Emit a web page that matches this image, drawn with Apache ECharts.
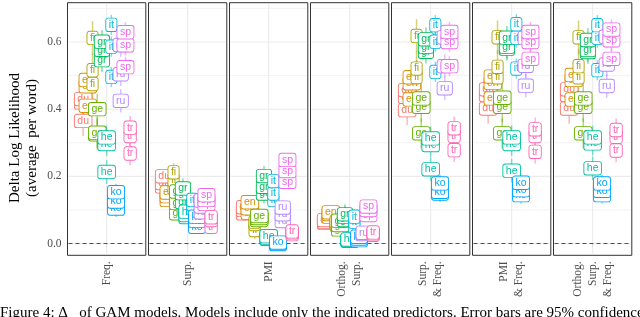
<!DOCTYPE html>
<html><head><meta charset="utf-8">
<script src="https://cdn.jsdelivr.net/npm/echarts@6/dist/echarts.min.js"></script>
<style>html,body{margin:0;padding:0;background:#fff}#c{width:640px;height:317px}</style>
</head><body><div id="c"></div>
<script>
// ---------- data ----------
const languages = ['du','en','fi','ge','gr','he','it','ko','ru','sp','tr'];
const panelNames = ['Freq.','Surp.','PMI','Orthog.\nSurp.','Surp.\n& Freq.','PMI\n& Freq.','Orthog.\nSurp.\n& Freq.'];
const yTicks = [0, 0.2, 0.4, 0.6];
const yMinorTicks = [0.1, 0.3, 0.5, 0.7];
// delta log likelihood, 3 models per language (order: du,en,fi,ge,gr,he,it,ko,ru,sp,tr)
const freqVals = [[0.365,0.42,0.43],[0.41,0.468,0.487],[0.475,0.516,0.612],[0.325,0.33,0.40],[0.546,0.577,0.601],[0.213,0.296,0.316],[0.496,0.586,0.651],[0.104,0.125,0.153],[0.425,0.504,0.591],[0.525,0.59,0.629],[0.268,0.32,0.345]];
const surpVals = [[0.17,0.18,0.20],[0.13,0.141,0.152],[0.165,0.189,0.212],[0.09,0.121,0.155],[0.124,0.15,0.164],[0.079,0.085,0.095],[0.105,0.118,0.13],[0.05,0.068,0.08],[0.093,0.11,0.128],[0.118,0.13,0.144],[0.05,0.07,0.078]];
const pmiVals = [[0.09,0.10,0.108],[0.092,0.105,0.123],[0.04,0.058,0.065],[0.07,0.076,0.082],[0.149,0.169,0.201],[0.014,0.018,0.022],[0.13,0.149,0.186],[-0.002,0.0,0.003],[0.067,0.087,0.107],[0.184,0.216,0.249],[0.028,0.033,0.036]];
const orthVals = [[0.062,0.065,0.07],[0.08,0.088,0.093],[0.055,0.06,0.065],[0.042,0.055,0.068],[0.07,0.08,0.087],[0.008,0.01,0.012],[0.05,0.065,0.08],[0.01,0.015,0.02],[0.028,0.03,0.032],[0.085,0.10,0.11],[0.026,0.03,0.033]];
const surpFreqVals = [[0.397,0.437,0.457],[0.429,0.477,0.495],[0.496,0.521,0.618],[0.328,0.407,0.432],[0.571,0.586,0.608],[0.221,0.293,0.313],[0.511,0.601,0.650],[0.149,0.154,0.179],[0.462,0.528,0.614],[0.528,0.60,0.63],[0.278,0.321,0.343]];
const pmiFreqVals = [[0.402,0.442,0.459],[0.432,0.479,0.497],[0.495,0.526,0.614],[0.328,0.407,0.434],[0.58,0.586,0.613],[0.217,0.296,0.316],[0.521,0.613,0.653],[0.144,0.159,0.181],[0.47,0.529,0.612],[0.55,0.60,0.63],[0.273,0.32,0.34]];
const orthFreqVals = [[0.402,0.442,0.459],[0.429,0.487,0.502],[0.495,0.528,0.614],[0.328,0.407,0.432],[0.57,0.576,0.606],[0.224,0.298,0.316],[0.516,0.613,0.65],[0.144,0.157,0.179],[0.469,0.533,0.616],[0.55,0.605,0.637],[0.277,0.318,0.338]];
// 95% CI half widths per language
const ciWide = [0.045,0.04,0.05,0.045,0.035,0.035,0.03,0.025,0.035,0.03,0.035];
const ciNarrow = [0.022,0.02,0.027,0.022,0.03,0.018,0.022,0.018,0.022,0.02,0.02];

const panelVals = [freqVals, surpVals, pmiVals, orthVals, surpFreqVals, pmiFreqVals, orthFreqVals];
const panelCI = [ciWide, ciNarrow, ciNarrow, ciNarrow, ciWide, ciWide, ciWide];

// ---------- style ----------
const colors = ['#F8766D','#DB8E00','#AEA200','#64B200','#00BD5C','#00C1A7','#00BADE','#00A6FF','#B385FF','#EF67EB','#FF63B6'];
const serif = 'Liberation Serif';
const yMin = -0.035, yMax = 0.717;
function langX(l){ return (l - 5) * 0.12; }
function alpha(hex, a){
  const n = parseInt(hex.slice(1),16);
  return 'rgba(' + (n>>16&255) + ',' + (n>>8&255) + ',' + (n&255) + ',' + a + ')';
}

const chart = echarts.init(document.getElementById('c'), null, {renderer:'canvas', width:640, height:317});
const grids=[], xAxes=[], yAxes=[], series=[];

panelNames.forEach((name, p) => {
  grids.push({left: 67.5 + p*81, top: 2.7, width: 78.3, height: 252.6, show: true,
    borderColor:'#333333', borderWidth:1, backgroundColor:'#ffffff'});
  xAxes.push({gridIndex:p, type:'value', min:-1, max:1,
    axisLine:{show:false}, splitLine:{show:false},
    axisTick:{show:true, customValues:[0], length:3, lineStyle:{color:'#333333', width:1}},
    axisLabel:{customValues:[0], formatter:()=>name, rotate:90, fontFamily:serif, fontSize:11.5,
      color:'#4D4D4D', margin:6, lineHeight:15}});
  yAxes.push({gridIndex:p, type:'value', min:yMin, max:yMax,
    axisLine:{show:false}, splitLine:{show:false},
    axisTick:{show:p===0, customValues:yTicks, length:3, lineStyle:{color:'#333333', width:1}},
    axisLabel:{show:p===0, customValues:yTicks, formatter:v=>v.toFixed(1), fontFamily:serif,
      fontSize:11.5, color:'#4D4D4D', margin:6}});

  // background grid + zero line
  series.push({type:'custom', xAxisIndex:p, yAxisIndex:p, silent:true, z:1, data:[[0,0]],
    renderItem:function(params, api){
      const cs = params.coordSys;
      const x1 = cs.x + 1, x2 = cs.x + cs.width - 1;
      const ch = [];
      yMinorTicks.forEach(v => {
        const y = api.coord([0, v])[1];
        ch.push({type:'line', shape:{x1:x1, y1:y, x2:x2, y2:y}, style:{stroke:'#EBEBEB', lineWidth:0.6}});
      });
      yTicks.forEach(v => {
        const y = api.coord([0, v])[1];
        ch.push({type:'line', shape:{x1:x1, y1:y, x2:x2, y2:y}, style:{stroke:'#EBEBEB', lineWidth:1.1}});
      });
      const cx = api.coord([0, 0])[0];
      ch.push({type:'line', shape:{x1:cx, y1:cs.y+1, x2:cx, y2:cs.y+cs.height-1}, style:{stroke:'#EBEBEB', lineWidth:1.1}});
      const y0 = api.coord([0, 0])[1];
      ch.push({type:'line', shape:{x1:x1, y1:y0, x2:x2, y2:y0}, style:{stroke:'#555555', lineWidth:1.1, lineDash:[4,3]}});
      return {type:'group', children:ch};
    }});

  const errData = [], labData = [];
  panelVals[p].forEach((vals, l) => {
    vals.forEach(v => {
      errData.push([langX(l), v - panelCI[p][l], v + panelCI[p][l], l]);
      labData.push([langX(l), v, l]);
    });
  });
  series.push({type:'custom', xAxisIndex:p, yAxisIndex:p, silent:true, z:2, data:errData,
    renderItem:function(params, api){
      const lo = api.coord([api.value(0), api.value(1)]);
      const hi = api.coord([api.value(0), api.value(2)]);
      const l = api.value(3);
      return {type:'line', shape:{x1:lo[0], y1:lo[1], x2:hi[0], y2:hi[1]},
        style:{stroke:alpha(colors[l],0.5), lineWidth:1.5}};
    }});
  series.push({type:'custom', xAxisIndex:p, yAxisIndex:p, silent:true, z:3, data:labData,
    renderItem:function(params, api){
      const pt = api.coord([api.value(0), api.value(1)]);
      const l = api.value(2);
      return {type:'text', x:pt[0], y:pt[1],
        style:{text:languages[l], fill:colors[l], fontFamily:'Liberation Sans', fontSize:10.5,
          align:'center', verticalAlign:'middle', backgroundColor:'#ffffff',
          borderColor:colors[l], borderWidth:0.9, borderRadius:2, padding:[1,2.5,0.5,2.5]}};
    }});
});

chart.setOption({
  animation:false,
  grid:grids, xAxis:xAxes, yAxis:yAxes, series:series,
  graphic:[
    {type:'text', x:23.5, y:138, rotation:Math.PI/2,
      style:{text:'Delta Log Likelihood\n(average  per word)', fontFamily:serif, fontSize:15, lineHeight:17,
        align:'center', verticalAlign:'middle', fill:'#000000'}},
    {type:'text', x:0, y:306,
      style:{text:'Figure 4: \u0394   of GAM models. Models include only the indicated predictors. Error bars are 95% confidence',
        fontFamily:serif, fontSize:15, fill:'#000000', align:'left', verticalAlign:'top'}}
  ]
});
</script>
</body></html>
